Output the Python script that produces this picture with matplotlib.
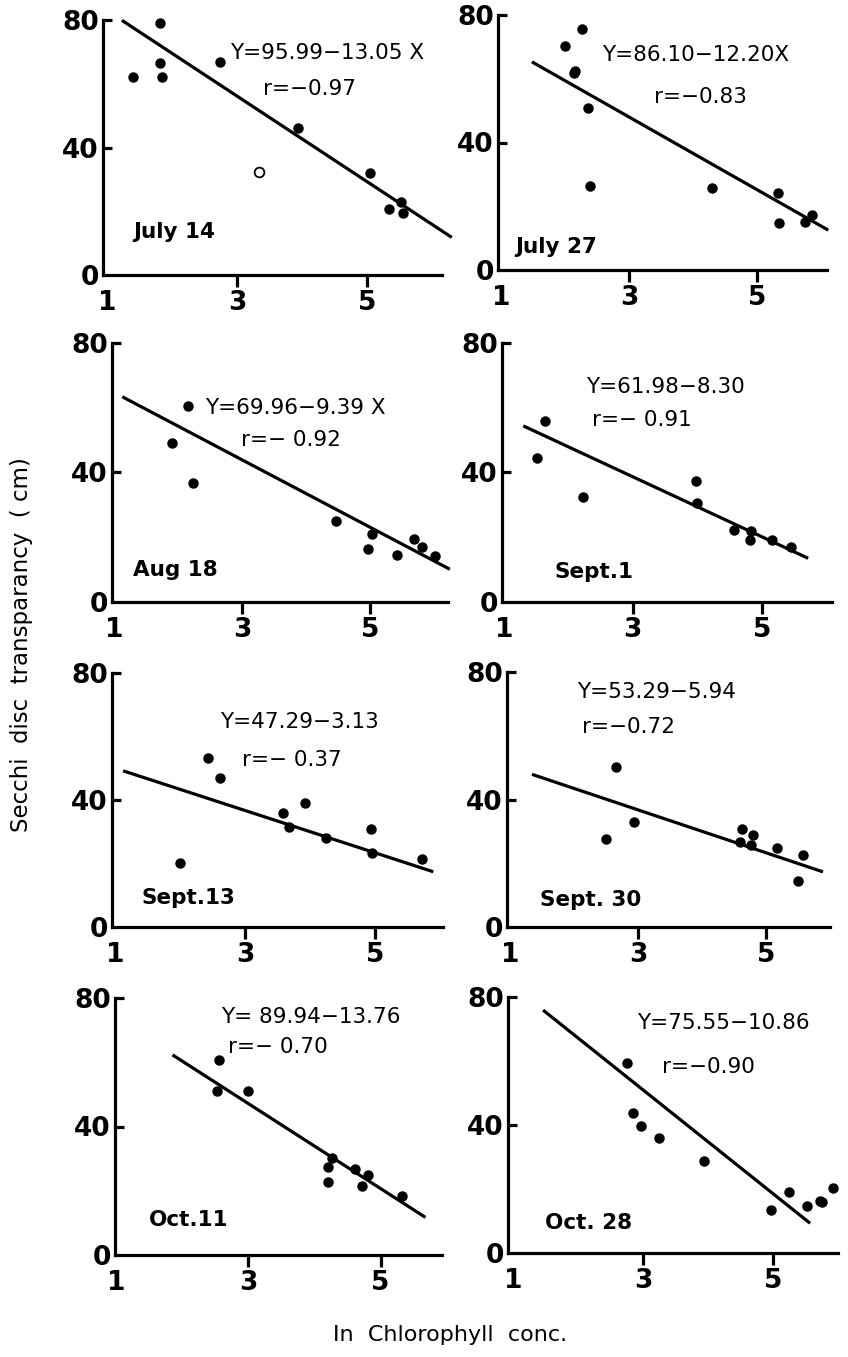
import matplotlib.pyplot as plt

W, H = 848, 1357

# ── DATA ────────────────────────────────────────────────────────────
dates = ["July 14", "July 27", "Aug 18", "Sept.1",
         "Sept.13", "Sept. 30", "Oct.11", "Oct. 28"]
equations = ["Y=95.99\u221213.05 X", "Y=86.10\u221212.20X", "Y=69.96\u22129.39 X",
             "Y=61.98\u22128.30", "Y=47.29\u22123.13", "Y=53.29\u22125.94",
             "Y= 89.94\u221213.76", "Y=75.55\u221210.86"]
r_values = ["r=\u22120.97", "r=\u22120.83", "r=\u2212 0.92", "r=\u2212 0.91",
            "r=\u2212 0.37", "r=\u22120.72", "r=\u2212 0.70", "r=\u22120.90"]

jul14_x = [1.40, 1.82, 1.82, 1.84, 2.74, 3.94, 5.05, 5.34, 5.52, 5.55]
jul14_y = [62.2, 79.1, 66.4, 62.2, 66.9, 46.0, 31.9, 20.7, 23.0, 19.5]
jul14_open_x = [3.34]
jul14_open_y = [32.4]

jul27_x = [2.00, 2.26, 2.16, 2.13, 2.35, 2.39, 4.29, 5.32, 5.34, 5.75, 5.85]
jul27_y = [70.3, 75.5, 62.4, 61.9, 50.7, 26.4, 25.8, 24.2, 14.8, 15.1, 17.2]

aug18_x = [1.90, 2.15, 2.23, 4.47, 4.97, 5.04, 5.42, 5.69, 5.82, 6.02]
aug18_y = [49.2, 60.6, 36.8, 25.0, 16.3, 20.9, 14.5, 19.4, 17.1, 14.2]

sep1_x = [1.51, 1.64, 2.23, 3.98, 3.99, 4.57, 4.81, 4.83, 5.16, 5.46]
sep1_y = [44.4, 56.0, 32.3, 37.3, 30.6, 22.2, 19.3, 22.0, 19.3, 17.1]

sep13_x = [2.00, 2.43, 2.61, 3.59, 3.67, 3.92, 4.25, 4.94, 4.95, 5.73]
sep13_y = [20.3, 53.3, 46.8, 35.8, 31.6, 39.0, 27.9, 30.8, 23.4, 21.3]

sep30_x = [2.50, 2.66, 2.94, 4.59, 4.62, 4.77, 4.79, 5.17, 5.50, 5.58]
sep30_y = [27.5, 50.3, 32.8, 26.7, 30.7, 25.7, 29.0, 24.9, 14.4, 22.6]

oct11_x = [2.53, 2.55, 3.00, 4.20, 4.21, 4.27, 4.61, 4.72, 4.81, 5.32]
oct11_y = [51.2, 60.7, 50.9, 22.7, 27.5, 30.1, 26.9, 21.5, 24.9, 18.5]

oct28_x = [2.75, 2.85, 2.97, 3.25, 3.94, 4.97, 5.24, 5.53, 5.72, 5.76, 5.92]
oct28_y = [59.3, 43.8, 39.7, 36.0, 28.9, 13.4, 19.0, 14.8, 16.1, 15.9, 20.3]

# fitted lines as drawn: (x start, x end), (y start, y end)
fit_x = [(1.23, 6.30), (1.48, 6.11), (1.13, 6.25), (1.30, 5.72),
         (1.12, 5.90), (1.34, 5.89), (1.85, 5.68), (1.46, 5.57)]
fit_y = [(79.9, 11.8), (65.3, 12.5), (63.4, 10.1), (54.4, 13.5),
         (49.2, 17.4), (47.9, 17.3), (62.3, 11.7), (75.9, 9.3)]

xticks = [1, 3, 5]
yticks = [0, 40, 80]

# ── LAYOUT ──────────────────────────────────────────────────────────
# axes rectangles in pixels: left, top, right, bottom
rects = [(103, 20, 442, 275), (498, 15, 827, 270),
         (112, 343, 448, 602), (502, 343, 832, 602),
         (112, 673, 443, 927), (507, 672, 830, 927),
         (115, 998, 442, 1255), (508, 997, 838, 1253)]
xlims = [(0.94, 6.15), (0.95, 6.09), (0.97, 6.22), (0.97, 6.09),
         (0.95, 6.05), (0.95, 6.00), (0.98, 5.93), (0.92, 6.00)]
eq_pos = [(2.89, 69.7), (2.57, 67.4), (2.42, 59.8), (2.28, 66.3),
          (2.62, 64.7), (2.04, 73.8), (2.59, 74.2), (2.90, 71.8)]
r_pos = [(3.40, 58.5), (3.38, 54.3), (2.99, 50.0), (2.36, 56.2),
         (2.95, 52.6), (2.12, 62.8), (2.69, 64.9), (3.29, 58.2)]
date_pos = [(1.40, 13.6), (1.22, 7.3), (1.30, 9.9), (1.79, 9.4),
            (1.41, 9.0), (1.47, 8.5), (1.49, 10.9), (1.49, 9.3)]

points = [(jul14_x, jul14_y), (jul27_x, jul27_y), (aug18_x, aug18_y),
          (sep1_x, sep1_y), (sep13_x, sep13_y), (sep30_x, sep30_y),
          (oct11_x, oct11_y), (oct28_x, oct28_y)]

LW = 2.3

fig = plt.figure(figsize=(W / 100, H / 100), dpi=100)

for i, (l, t, r, b) in enumerate(rects):
    ax = fig.add_axes([l / W, 1 - b / H, (r - l) / W, (b - t) / H])
    ax.set_xlim(*xlims[i])
    ax.set_ylim(0, 80)
    for side in ("top", "right"):
        ax.spines[side].set_visible(False)
    for side in ("left", "bottom"):
        ax.spines[side].set_linewidth(LW)
    ax.set_xticks(xticks)
    ax.set_yticks(yticks)
    ax.tick_params(axis="x", direction="out", length=8.5, width=LW, pad=2,
                   labelsize=19)
    ax.tick_params(axis="y", direction="in", length=6.5, width=LW, pad=3,
                   labelsize=19)
    ax.xaxis.get_major_ticks()[0].tick1line.set_visible(False)
    ax.yaxis.get_major_ticks()[0].tick1line.set_visible(False)
    for lab in ax.get_xticklabels() + ax.get_yticklabels():
        lab.set_fontweight("bold")

    px, py = points[i]
    ax.plot(px, py, "o", color="black", ms=6.5, clip_on=False)
    if i == 0:
        ax.plot(jul14_open_x, jul14_open_y, "o", mfc="white", mec="black",
                mew=1.3, ms=7)
    ax.plot(fit_x[i], fit_y[i], color="black", lw=LW, clip_on=False,
            solid_capstyle="butt")

    ax.text(*eq_pos[i], equations[i], fontsize=15.5, ha="left", va="center")
    ax.text(*r_pos[i], r_values[i], fontsize=15.5, ha="left", va="center")
    ax.text(*date_pos[i], dates[i], fontsize=15.5, fontweight="bold",
            ha="left", va="center")

fig.text(22 / W, 1 - 645 / H, "Secchi  disc  transparancy  ( cm)",
         rotation=90, ha="center", va="center", fontsize=16.5)
fig.text(450 / W, 1 - 1335 / H, "In  Chlorophyll  conc.",
         ha="center", va="center", fontsize=16)

fig.savefig("out.png", dpi=100)
